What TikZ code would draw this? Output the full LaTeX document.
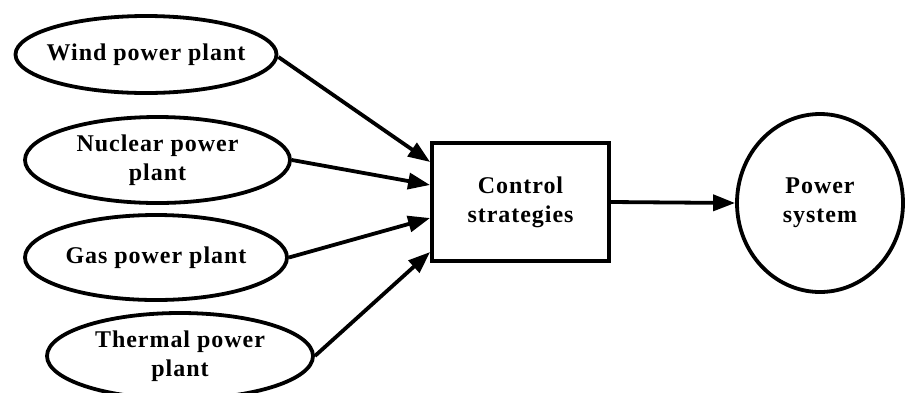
\documentclass[tikz,border=0pt]{standalone}
\usepackage{fontspec}
\setmainfont{Liberation Serif}[LetterSpace=4]
\usetikzlibrary{shapes.geometric,arrows.meta}
\begin{document}
\begin{tikzpicture}[x=1pt,y=-1pt,
  txt/.style={font=\fontsize{24}{29}\selectfont\bfseries, align=center, inner sep=0pt},
  src/.style={draw, line width=3.8pt, ellipse, inner sep=0pt, minimum width=#1},
  arr/.style={line width=3.8pt, -{Triangle[length=22pt,width=16pt]}}]
\useasboundingbox (0,0) rectangle (905,392);
\node[src=261pt, minimum height=77pt, label={[txt]center:Wind power plant}] (wind) at (146,54.5) {};
\node[src=265pt, minimum height=86pt, label={[txt]center:{Nuclear power\\plant}}] (nuc) at (157.5,160) {};
\node[src=262pt, minimum height=85pt, label={[txt]center:Gas power plant}] (gas) at (156,257.5) {};
\node[src=266pt, minimum height=86pt, label={[txt]center:{Thermal power\\plant}}] (th) at (180,356) {};
\node[txt, draw, line width=3.8pt, minimum width=177pt, minimum height=118pt] (ctrl) at (520.5,202) {Control\\strategies};
\node[txt, draw, line width=3.8pt, ellipse, minimum width=166pt, minimum height=178pt] (ps) at (820,203) {Power\\system};
\coordinate (w1) at (277,57);
\draw[arr] (wind.east |- w1) -- (ctrl.west |- 0,162);
\draw[arr] (nuc.east) -- (ctrl.west |- 0,185);
\draw[arr] (gas.east) -- (ctrl.west |- 0,218);
\draw[arr] (th.east) -- (ctrl.west |- 0,252);
\draw[arr] (ctrl.east) -- (ps.west);
\end{tikzpicture}
\end{document}
